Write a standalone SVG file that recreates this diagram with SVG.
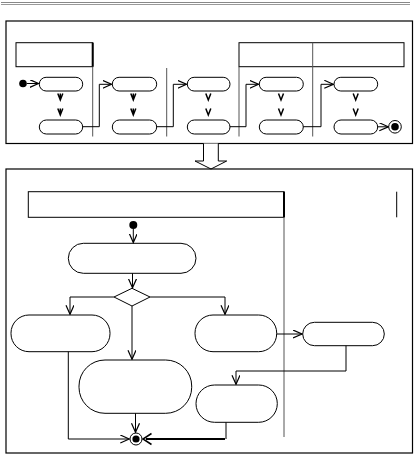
<svg xmlns="http://www.w3.org/2000/svg" width="415" height="455" viewBox="0 0 415 455">
<defs>
<style>
.frame{fill:none;stroke:#000;stroke-width:1.2}
.node{fill:#fff;stroke:#000;stroke-width:1}
.lane{fill:none;stroke:#555;stroke-width:1}
.hdr{fill:none;stroke:#000;stroke-width:1}
.con{fill:none;stroke:#000;stroke-width:1}
.thick{fill:none;stroke:#000;stroke-width:2}
.chev{fill:none;stroke:#000;stroke-width:1.5}
</style>
<marker id="open" markerWidth="10" markerHeight="10" refX="9" refY="4" orient="auto" markerUnits="userSpaceOnUse">
<path d="M0,0 L9,4 L0,8" fill="none" stroke="#000" stroke-width="1.2"/>
</marker>
</defs>
<rect width="415" height="455" fill="#fff"/>
<!-- top rule -->
<line x1="1" y1="2.5" x2="410" y2="2.5" stroke="#888" stroke-width="1"/>
<line x1="1" y1="4.5" x2="410" y2="4.5" stroke="#999" stroke-width="1.2"/>

<!-- top frame -->
<g id="frame-top">
<rect class="frame" x="6" y="21" width="406.5" height="122.5"/>
<rect class="hdr" x="16" y="42.7" width="76.7" height="24"/>
<line x1="92.7" y1="42.7" x2="92.7" y2="66.7" stroke="#000" stroke-width="2"/>
<rect class="hdr" x="239" y="42.7" width="165" height="24"/>
<line class="lane" x1="92.7" y1="66.7" x2="92.7" y2="136.5"/>
<line class="lane" x1="166.7" y1="68" x2="166.7" y2="136.5"/>
<line class="lane" x1="239" y1="66.7" x2="239" y2="136.5"/>
<line class="lane" x1="312.7" y1="42.7" x2="312.7" y2="136.5"/>
</g>

<g id="t-start"><circle cx="23" cy="83.5" r="3.8" fill="#000"/></g>
<g id="t1a"><rect class="node" x="39.3" y="77.3" width="43.4" height="13.7" rx="6.8"/></g>
<g id="t1b"><rect class="node" x="39.3" y="120" width="43.4" height="14" rx="7"/></g>
<g id="t2a"><rect class="node" x="112.3" y="77.3" width="44.4" height="13.7" rx="6.8"/></g>
<g id="t2b"><rect class="node" x="112.3" y="120" width="44.4" height="14" rx="7"/></g>
<g id="t3a"><rect class="node" x="187.3" y="77.3" width="42.7" height="13.7" rx="6.8"/></g>
<g id="t3b"><rect class="node" x="187.3" y="120" width="42.7" height="14" rx="7"/></g>
<g id="t4a"><rect class="node" x="259.3" y="77.3" width="44" height="13.7" rx="6.8"/></g>
<g id="t4b"><rect class="node" x="259.3" y="120" width="44" height="14" rx="7"/></g>
<g id="t5a"><rect class="node" x="334" y="77.3" width="43.7" height="13.7" rx="6.8"/></g>
<g id="t5b"><rect class="node" x="334" y="120" width="43.7" height="14" rx="7"/></g>
<g id="t-end"><circle cx="395" cy="126.8" r="6.3" fill="#fff" stroke="#000" stroke-width="1"/><circle cx="395" cy="126.8" r="3.8" fill="#000"/></g>

<!-- block arrow -->
<g id="transform-arrow">
<path d="M203.5,143.5 V161 H195 L211,169 L226.7,161 H218.3 V143.5" fill="#fff" stroke="#000" stroke-width="1"/>
</g>

<!-- bottom frame -->
<g id="frame-bottom">
<rect class="frame" x="6" y="169" width="406.5" height="284"/>
<rect class="hdr" x="28.3" y="191.7" width="255.7" height="25.6"/>
<line x1="284" y1="191.7" x2="284" y2="217.3" stroke="#000" stroke-width="2"/>
<line class="lane" x1="284" y1="217.3" x2="284" y2="437"/>
<line x1="396.7" y1="191.7" x2="396.7" y2="217.3" stroke="#000" stroke-width="1"/>
</g>

<g id="b-start"><circle cx="133.3" cy="225" r="4" fill="#000"/></g>
<g id="bA"><rect class="node" x="68.3" y="243.3" width="127.7" height="30" rx="15"/></g>
<g id="bDecision"><polygon class="node" points="114,297 132,288.3 150,297 132,306"/></g>
<g id="bB"><rect class="node" x="11" y="315" width="99" height="36.7" rx="18"/></g>
<g id="bC"><rect class="node" x="195" y="315" width="81.7" height="36.7" rx="18"/></g>
<g id="bE"><rect class="node" x="302.7" y="322.3" width="81.6" height="23.4" rx="11.7"/></g>
<g id="bD"><rect class="node" x="79" y="360" width="112.7" height="53.3" rx="26"/></g>
<g id="bF"><rect class="node" x="196" y="385" width="81.3" height="37.3" rx="18.6"/></g>
<g id="b-end"><circle cx="136" cy="439" r="6" fill="#fff" stroke="#000" stroke-width="1"/><circle cx="136" cy="439" r="3.6" fill="#000"/></g>

<g id="connectors">
<!-- top -->
<line class="con" x1="27" y1="83.5" x2="38.5" y2="83.5" marker-end="url(#open)"/>
<path class="con" d="M82.7,126.7 H99.3 V84.3 H111.5" marker-end="url(#open)"/>
<path class="con" d="M156.7,126.7 H173.3 V84.3 H186.5" marker-end="url(#open)"/>
<path class="con" d="M230,126.7 H246 V84.3 H258.5" marker-end="url(#open)"/>
<path class="con" d="M303.3,126.7 H321 V84.3 H333.3" marker-end="url(#open)"/>
<line class="con" x1="377.7" y1="126.8" x2="388.3" y2="126.8" marker-end="url(#open)"/>
<path class="chev" d="M57.8,93.5 L60.3,100 L62.8,93.5 M60.3,93.5 V100 M57.8,108.5 L60.3,115 L62.8,108.5 M60.3,108.5 V115"/>
<path class="chev" d="M130.8,93.5 L133.3,100 L135.8,93.5 M133.3,93.5 V100 M130.8,108.5 L133.3,115 L135.8,108.5 M133.3,108.5 V115"/>
<path class="chev" d="M205.8,93.5 L208.3,100 L210.8,93.5 M205.8,108.5 L208.3,115 L210.8,108.5"/>
<path class="chev" d="M278.5,93.5 L281,100 L283.5,93.5 M278.5,108.5 L281,115 L283.5,108.5"/>
<path class="chev" d="M353.2,93.5 L355.7,100 L358.2,93.5 M353.2,108.5 L355.7,115 L358.2,108.5"/>
<!-- bottom -->
<line class="con" x1="133.3" y1="229" x2="133.3" y2="242.5" marker-end="url(#open)"/>
<line class="con" x1="132.5" y1="273.3" x2="132.5" y2="287.8" marker-end="url(#open)"/>
<path class="con" d="M114,297 H70 V314.3" marker-end="url(#open)"/>
<path class="con" d="M150,297 H225 V314.3" marker-end="url(#open)"/>
<line class="con" x1="132" y1="306" x2="132" y2="359.3" marker-end="url(#open)"/>
<line class="con" x1="276.7" y1="334" x2="302" y2="334" marker-end="url(#open)"/>
<path class="con" d="M346,345.7 V371 H236 V384.3" marker-end="url(#open)"/>
<line class="con" x1="135.5" y1="413.3" x2="135.5" y2="432.3" marker-end="url(#open)"/>
<path class="con" d="M68.3,351.7 V439 H129.3" marker-end="url(#open)"/>
<line class="con" x1="226" y1="422.3" x2="226" y2="439"/>
<line class="thick" x1="225" y1="439" x2="146" y2="439"/>
<path d="M151.5,433.5 L143,439 L151.5,444.5" fill="none" stroke="#000" stroke-width="1.5"/>
</g>
</svg>
